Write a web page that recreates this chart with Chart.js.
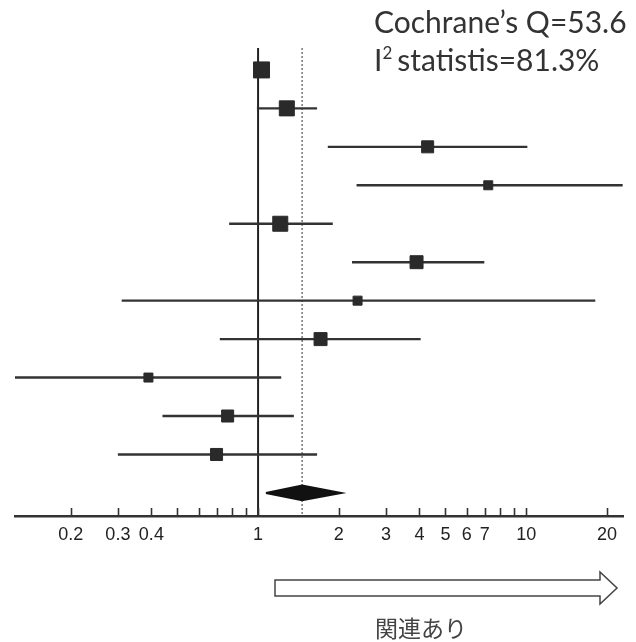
<!DOCTYPE html>
<html>
<head>
<meta charset="utf-8">
<script src="https://cdn.jsdelivr.net/npm/chart.js@4/dist/chart.umd.min.js"></script>
<style>
  html, body { margin: 0; padding: 0; background: #fff; }
  #wrap { position: relative; width: 636px; height: 642px; overflow: hidden; }
  #plot { position: absolute; left: 0; top: 0; }
  .stat { position: absolute; left: 374px; font-family: Lato, 'Open Sans', sans-serif; font-size: 30px;
          line-height: 30px; color: #333; white-space: nowrap; }
  .stat sup { font-size: 17px; vertical-align: 12px; line-height: 0; margin-right: 5px; }
  #arrow { position: absolute; left: 0; top: 0; }
  #note { position: absolute; left: 375px; top: 614px; font-family: 'Noto Sans CJK JP', sans-serif;
          font-size: 23px; line-height: 26px; color: #444; }
</style>
</head>
<body>
<div id="wrap">
  <canvas id="plot" width="636" height="560"></canvas>
  <div class="stat" style="top:6px">Cochrane’s Q=53.6</div>
  <div class="stat" style="top:44px">I<sup>2</sup>statistis=81.3%</div>
  <svg id="arrow" width="636" height="642">
    <polygon points="275,580 600,580 600,572 617,588 600,604 600,596 275,596"
             fill="#fff" stroke="#444" stroke-width="1.5" />
  </svg>
  <div id="note">関連あり</div>
</div>

<script>
// ── Data (odds ratios) ─────────────────────────────────────────────────
const studyRows = [1, 2, 3, 4, 5, 6, 7, 8, 9, 10, 11];
const estimates = [1.03, 1.28, 4.29, 7.22, 1.21, 3.90, 2.35, 1.71, 0.39, 0.77, 0.70];
const lowerCI   = [0.99, 0.99, 1.82, 2.33, 0.78, 2.24, 0.31, 0.72, 0.124, 0.44, 0.30];
const upperCI   = [1.08, 1.66, 10.1, 22.9, 1.90, 6.98, 18.1, 4.04, 1.22, 1.36, 1.66];
const weights   = [14.9, 13.1, 8.4, 4.7, 13.1, 9.8, 4.7, 9.8, 4.7, 8.4, 8.4];   // % weight

const pooledRow      = 12;
const pooledEstimate = 1.46;
const pooledCI       = [1.07, 2.04];

const tickValues   = [0.2, 0.3, 0.4, 0.5, 0.6, 0.7, 0.8, 0.9, 1, 2, 3, 4, 5, 6, 7, 8, 9, 10, 20];
const labeledTicks = [0.2, 0.3, 0.4, 1, 2, 3, 4, 5, 6, 7, 10, 20];

// ── Scale limits ───────────────────────────────────────────────────────
const X_MIN = 0.124, X_MAX = 23.1;
const Y_MIN = 0.43,  Y_MAX = 12.6;
const INK = '#2a2a2a';

// square side grows with sqrt(weight); rect point side = radius * sqrt(2)
const squareRadius = w => Math.sqrt(w * 17.2) / Math.SQRT2;

// ── Datasets ───────────────────────────────────────────────────────────
const ciLines = studyRows.map((r, i) => ({
  type: 'line',
  data: [{ x: lowerCI[i], y: r }, { x: upperCI[i], y: r }],
  borderColor: '#333', borderWidth: 2.4, pointRadius: 0, order: 2,
}));

const squares = {
  type: 'scatter',
  data: studyRows.map((r, i) => ({ x: estimates[i], y: r })),
  pointStyle: 'rect',
  pointRadius: weights.map(squareRadius),
  pointBackgroundColor: INK, pointBorderColor: INK, pointBorderWidth: 1,
  order: 0,
};

const DIAMOND_HALF = 0.19;   // rows
const diamond = {
  type: 'line',
  data: [
    { x: pooledCI[0],    y: pooledRow },
    { x: pooledEstimate, y: pooledRow - DIAMOND_HALF },
    { x: pooledCI[1],    y: pooledRow },
    { x: pooledEstimate, y: pooledRow + DIAMOND_HALF },
    { x: pooledCI[0],    y: pooledRow },
  ],
  borderColor: '#111', borderWidth: 2, backgroundColor: '#111',
  fill: 'shape', pointRadius: 0, tension: 0, order: 1,
};

const nullLine = {
  type: 'line',
  data: [{ x: 1, y: Y_MIN }, { x: 1, y: Y_MAX }],
  borderColor: '#222', borderWidth: 2, pointRadius: 0, order: 3,
};

const pooledLine = {
  type: 'line',
  data: [{ x: pooledEstimate, y: Y_MIN }, { x: pooledEstimate, y: Y_MAX }],
  borderColor: '#777', borderWidth: 1.5, borderDash: [2, 2], pointRadius: 0, order: 3,
};

// ── Upward tick marks on the x axis ───────────────────────────────────
const upTicks = {
  id: 'upTicks',
  afterDraw(chart) {
    const { ctx, scales: { x }, chartArea } = chart;
    ctx.save();
    ctx.strokeStyle = '#333';
    ctx.lineWidth = 1.6;
    tickValues.forEach(v => {
      const px = Math.round(x.getPixelForValue(v)) + 0.5;
      ctx.beginPath();
      ctx.moveTo(px, chartArea.bottom);
      ctx.lineTo(px, chartArea.bottom - 8);
      ctx.stroke();
    });
    ctx.restore();
  }
};

new Chart(document.getElementById('plot'), {
  data: { datasets: [nullLine, pooledLine, ...ciLines, diamond, squares] },
  plugins: [upTicks],
  options: {
    responsive: false,
    animation: false,
    layout: { padding: { top: 48, left: 15, right: 10, bottom: 0 } },
    plugins: { legend: { display: false }, tooltip: { enabled: false } },
    scales: {
      x: {
        type: 'logarithmic', min: X_MIN, max: X_MAX,
        afterBuildTicks: s => { s.ticks = tickValues.map(v => ({ value: v })); },
        afterFit: s => { s.height = 44; },
        ticks: {
          autoSkip: false, maxRotation: 0, padding: 8, color: '#222',
          font: { family: 'Liberation Sans', size: 18 },
          callback: v => labeledTicks.includes(v) ? String(v) : '',
        },
        grid: { display: false, drawTicks: false },
        border: { display: true, color: '#333', width: 2.5 },
      },
      y: { type: 'linear', display: false, reverse: true, min: Y_MIN, max: Y_MAX },
    },
  },
});
</script>
</body>
</html>
